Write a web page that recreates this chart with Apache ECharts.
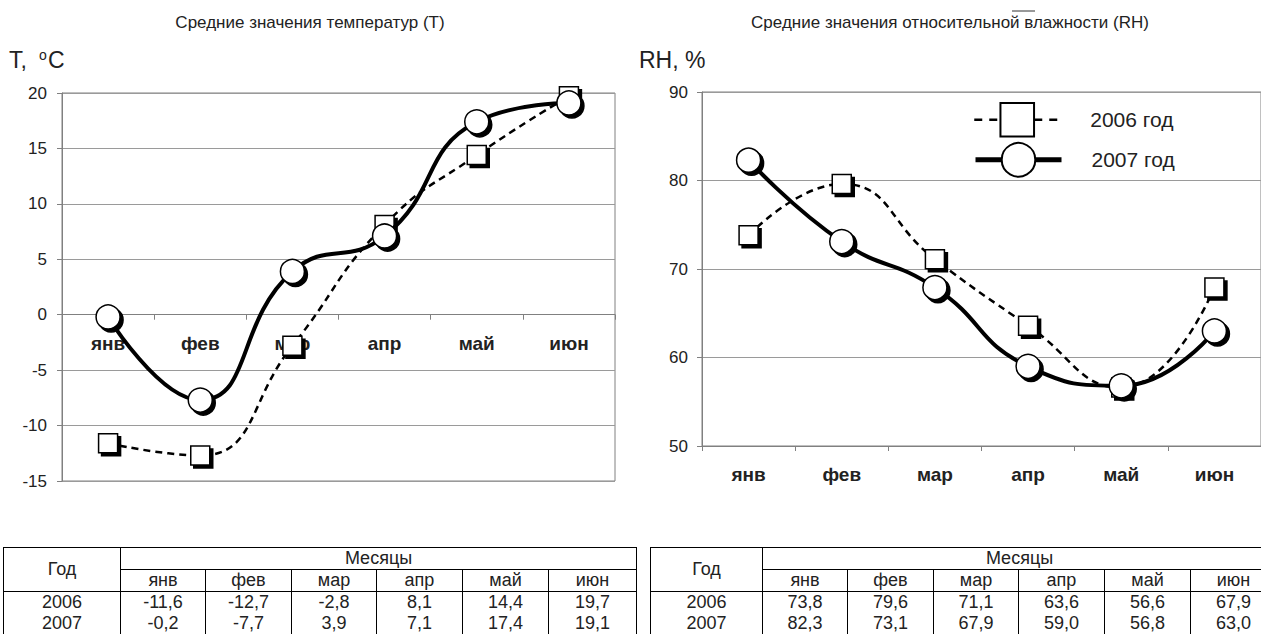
<!DOCTYPE html>
<html><head><meta charset="utf-8">
<script src="https://cdn.jsdelivr.net/npm/echarts@6.0.0/dist/echarts.min.js"></script>
<style>
html,body{margin:0;padding:0;background:#fff;}
body{width:1261px;height:634px;overflow:hidden;position:relative;font-family:"Liberation Sans",Arial,sans-serif;}
#chart{position:absolute;left:0;top:0;width:1261px;height:634px;}
table.tbl{position:absolute;border-collapse:collapse;table-layout:fixed;font-size:18px;color:#222;font-family:"Liberation Sans",Arial,sans-serif;}
table.tbl td{border-left:1px solid #000;border-right:1px solid #000;text-align:center;padding:0;white-space:nowrap;overflow:hidden;vertical-align:middle;}
table.tbl tr.h1 td{height:21px;line-height:21px;border-top:1px solid #000;border-bottom:1px solid #000;}
table.tbl tr.h2 td{height:21px;line-height:21px;border-bottom:1px solid #000;}
table.tbl tr.d1 td{height:21px;line-height:21px;}
table.tbl tr.d2 td{height:21px;line-height:21px;}
</style>
</head><body>
<div id="chart"></div>
<script>
// ---- data ----
const months = ['янв','фев','мар','апр','май','июн'];
const years = ['2006','2007'];
const seriesNames = ['2006 год','2007 год'];
const temp2006 = [-11.6,-12.7,-2.8,8.1,14.4,19.7];
const temp2007 = [-0.2,-7.7,3.9,7.1,17.4,19.1];
const rh2006 = [73.8,79.6,71.1,63.6,56.6,67.9];
const rh2007 = [82.3,73.1,67.9,59.0,56.8,63.0];
const tempTicks = [-15,-10,-5,0,5,10,15,20];
const rhTicks = [50,60,70,80,90];
const titleT = 'Средние значения температур (Т)';
const titleRH = 'Средние значения относительной влажности (RH)';

const FONT = '"Liberation Sans", Arial, sans-serif';
const txt = '#222';
const gridCol = '#9a9a9a';
const axisCol = '#808080';

const GRID0 = {left:62, top:93, width:553, height:388};
const GRID1 = {left:702, top:92, width:561, height:354};

// left category axis sits on the value 0 of the temperature scale
const tMin = tempTicks[0], tMax = tempTicks[tempTicks.length-1];
const zeroOffset = -GRID0.height * (0 - tMin) / (tMax - tMin);

const s2006 = {
  type:'line', name:seriesNames[0], smooth:0.5, symbol:'rect', symbolSize:19,
  lineStyle:{color:'#000', width:2.5, type:[7,5]},
  itemStyle:{color:'#fff', borderColor:'#000', borderWidth:1.5, shadowColor:'#000', shadowOffsetX:3, shadowOffsetY:3, shadowBlur:0},
  emphasis:{disabled:true}, z:3
};
const s2007 = {
  type:'line', name:seriesNames[1], smooth:0.5, symbol:'circle', symbolSize:24,
  lineStyle:{color:'#000', width:4},
  itemStyle:{color:'#fff', borderColor:'#000', borderWidth:1.5, shadowColor:'#000', shadowOffsetX:3, shadowOffsetY:3, shadowBlur:0},
  emphasis:{disabled:true}, z:4
};

function xAx(gi, offset){
  return {type:'category', gridIndex:gi, data:months, boundaryGap:true, position:'bottom', offset:offset,
    axisLine:{show:true, onZero:false, lineStyle:{color:axisCol, width:1}},
    axisTick:{show:true, length:5, lineStyle:{color:axisCol}},
    axisLabel:{margin:19, fontSize:19, fontWeight:'bold', color:txt, fontFamily:FONT},
    splitLine:{show:false}};
}
function yAx(gi, ticks, margin){
  return {type:'value', gridIndex:gi, min:ticks[0], max:ticks[ticks.length-1], interval:ticks[1]-ticks[0],
    axisLine:{show:true, onZero:false, lineStyle:{color:axisCol, width:1}},
    axisTick:{show:true, length:5, lineStyle:{color:axisCol}},
    axisLabel:{margin:margin, fontSize:17, color:txt, fontFamily:FONT},
    splitLine:{show:true, lineStyle:{color:gridCol, width:1}}};
}
function legendOf(name, top, extra){
  return {data:[Object.assign({name:name}, extra)], left:968, top:top, orient:'vertical',
    itemWidth:86, itemHeight:42, selectedMode:false,
    itemStyle:{shadowBlur:0, shadowOffsetX:0, shadowOffsetY:0, shadowColor:'rgba(0,0,0,0)'},
    textStyle:{fontSize:21, color:txt, fontFamily:FONT, padding:[0,0,0,25]}};
}

const chart = echarts.init(document.getElementById('chart'), null, {renderer:'svg'});
chart.setOption({
  animation:false,
  backgroundColor:'#fff',
  textStyle:{fontFamily:FONT},
  grid:[
    Object.assign({show:true, borderColor:axisCol, borderWidth:1, containLabel:false}, GRID0),
    Object.assign({show:true, borderColor:axisCol, borderWidth:1, containLabel:false}, GRID1)
  ],
  xAxis:[xAx(0, zeroOffset), xAx(1, 0)],
  yAxis:[yAx(0,tempTicks,15), yAx(1,rhTicks,14)],
  legend:[
    legendOf(seriesNames[0], 97, {lineStyle:{type:[8,7], width:2.5}}),
    legendOf(seriesNames[1], 137, {lineStyle:{width:5}})
  ],
  series:[
    Object.assign({}, s2006, {xAxisIndex:0, yAxisIndex:0, data:temp2006}),
    Object.assign({}, s2007, {xAxisIndex:0, yAxisIndex:0, data:temp2007}),
    Object.assign({}, s2006, {xAxisIndex:1, yAxisIndex:1, data:rh2006}),
    Object.assign({}, s2007, {xAxisIndex:1, yAxisIndex:1, data:rh2007})
  ],
  graphic:[
    {type:'text', x:310, y:22, style:{text:titleT, align:'center', verticalAlign:'middle', fontSize:17, fontFamily:FONT, fill:txt}},
    {type:'text', x:950, y:22, style:{text:titleRH, align:'center', verticalAlign:'middle', fontSize:17, fontFamily:FONT, fill:txt}},
    {type:'line', shape:{x1:1012, y1:11, x2:1035, y2:11}, style:{stroke:'#333', lineWidth:1}},
    {type:'text', x:9, y:60, style:{text:'T,', verticalAlign:'middle', fontSize:23, fontFamily:FONT, fill:txt}},
    {type:'text', x:39, y:55, style:{text:'o', verticalAlign:'middle', fontSize:14, fontFamily:FONT, fill:txt}},
    {type:'text', x:48, y:60, style:{text:'C', verticalAlign:'middle', fontSize:23, fontFamily:FONT, fill:txt}},
    {type:'text', x:639, y:60, style:{text:'RH, %', verticalAlign:'middle', fontSize:23, fontFamily:FONT, fill:txt}}
  ]
});

// ---- tables ----
function fmt(v){ return v.toFixed(1).replace('.', ','); }
function buildTable(left, widths, rows){
  const t = document.createElement('table');
  t.className = 'tbl';
  t.style.left = left + 'px';
  t.style.top = '547px';
  const total = widths.reduce((a,b)=>a+b,0);
  t.style.width = total + 'px';
  let html = '<colgroup>' + widths.map(w=>'<col style="width:'+w+'px">').join('') + '</colgroup>';
  html += '<tr class="h1"><td rowspan="2" style="border-bottom:1px solid #000;">Год</td><td colspan="6">Месяцы</td></tr>';
  html += '<tr class="h2">' + months.map(m=>'<td>'+m+'</td>').join('') + '</tr>';
  html += '<tr class="d1"><td>'+years[0]+'</td>' + rows[0].map(v=>'<td>'+fmt(v)+'</td>').join('') + '</tr>';
  html += '<tr class="d2"><td>'+years[1]+'</td>' + rows[1].map(v=>'<td>'+fmt(v)+'</td>').join('') + '</tr>';
  t.innerHTML = html;
  document.body.appendChild(t);
}
buildTable(3, [117,85,86,85,86,86,88], [temp2006, temp2007]);
buildTable(650, [112,85,86,85,86,86,86], [rh2006, rh2007]);
</script>
</body></html>
